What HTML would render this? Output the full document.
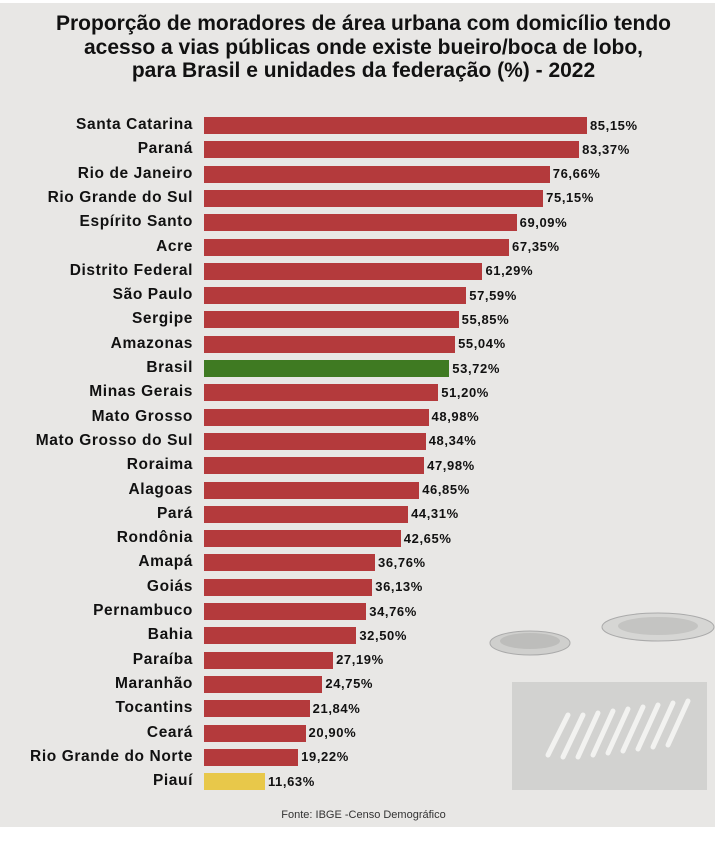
<!DOCTYPE html>
<html><head><meta charset="utf-8"><style>
body{margin:0;width:727px;height:841px;background:#fff;overflow:hidden;font-family:"Liberation Sans",Arial,sans-serif}
#bg{position:absolute;left:0;top:3px;width:715px;height:824px;background:#e8e7e5}
.t{position:absolute;left:0;width:727px;text-align:center;font-weight:bold;font-size:21px;color:#111;line-height:23.5px}
.l{position:absolute;right:534px;font-weight:bold;font-size:15.5px;letter-spacing:0.6px;color:#111;text-align:right;white-space:nowrap}
.b{position:absolute;left:204px;height:17px}
.v{position:absolute;font-weight:bold;font-size:13px;letter-spacing:0.6px;color:#111}
</style></head><body>
<div id="bg"></div>
<div class="t" style="top:12px">Proporção de moradores de área urbana com domicílio tendo<br>acesso a vias públicas onde existe bueiro/boca de lobo,<br>para Brasil e unidades da federação (%) - 2022</div>
<svg style="position:absolute;left:488px;top:605px" width="230" height="190">
<ellipse cx="42" cy="38" rx="40" ry="12" fill="#cfcfcd" stroke="#aaa"/>
<ellipse cx="42" cy="36" rx="30" ry="8" fill="#bdbdbb"/>
<ellipse cx="170" cy="22" rx="56" ry="14" fill="#d6d6d4" stroke="#aaa"/>
<ellipse cx="170" cy="21" rx="40" ry="9" fill="#c4c4c2"/>
<rect x="24" y="77" width="195" height="108" fill="#d2d2d0"/>
<g stroke="#f2f2f0" stroke-width="5" stroke-linecap="round">
<line x1="60" y1="150" x2="80" y2="110"/><line x1="75" y1="152" x2="95" y2="110"/><line x1="90" y1="152" x2="110" y2="108"/><line x1="105" y1="150" x2="125" y2="106"/><line x1="120" y1="148" x2="140" y2="104"/><line x1="135" y1="146" x2="155" y2="102"/><line x1="150" y1="144" x2="170" y2="100"/><line x1="165" y1="142" x2="185" y2="98"/><line x1="180" y1="140" x2="200" y2="96"/></g>
</svg>
<div id="c"></div>
<div style="position:absolute;left:0;width:727px;top:809px;text-align:center;font-size:11px;color:#333">Fonte: IBGE -Censo Demográfico</div>
<script>
var d=[["Santa Catarina",85.15],["Paraná",83.37],["Rio de Janeiro",76.66],["Rio Grande do Sul",75.15],["Espírito Santo",69.09],["Acre",67.35],["Distrito Federal",61.29],["São Paulo",57.59],["Sergipe",55.85],["Amazonas",55.04],["Brasil",53.72],["Minas Gerais",51.20],["Mato Grosso",48.98],["Mato Grosso do Sul",48.34],["Roraima",47.98],["Alagoas",46.85],["Pará",44.31],["Rondônia",42.65],["Amapá",36.76],["Goiás",36.13],["Pernambuco",34.76],["Bahia",32.50],["Paraíba",27.19],["Maranhão",24.75],["Tocantins",21.84],["Ceará",20.90],["Rio Grande do Norte",19.22],["Piauí",11.63]];
var h="";
d.forEach(function(r,i){var cy=125.5+i*24.3;var e=214+4.38*r[1];
var col=r[0]=="Brasil"?"#3f7a22":(r[0]=="Piauí"?"#e8c84a":"#b43a3c");
h+='<div class="l" style="top:'+(cy-9.5)+'px">'+r[0]+'</div>';
h+='<div class="b" style="top:'+(cy-8.5)+'px;width:'+(e-204)+'px;background:'+col+'"></div>';
h+='<div class="v" style="top:'+(cy-8)+'px;left:'+(e+3)+'px">'+r[1].toFixed(2).replace(".",",")+'%</div>';});
document.getElementById("c").innerHTML=h;
</script>
</body></html>
